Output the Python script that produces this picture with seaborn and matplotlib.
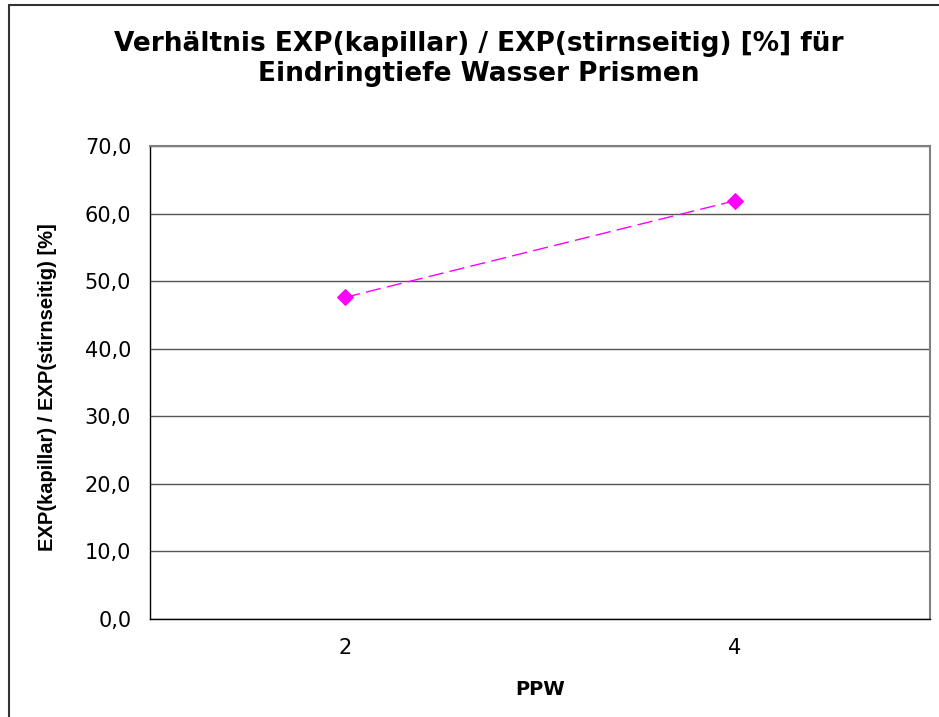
import matplotlib
matplotlib.use("Agg")
import matplotlib.pyplot as plt
from matplotlib.lines import Line2D
import seaborn as sns
import pandas as pd

categories = ["2", "4"]
values = [47.6, 61.9]
y_ticks = [0, 10, 20, 30, 40, 50, 60, 70]
y_tick_labels = ["0,0", "10,0", "20,0", "30,0", "40,0", "50,0", "60,0", "70,0"]
title = "Verhältnis EXP(kapillar) / EXP(stirnseitig) [%] für\nEindringtiefe Wasser Prismen"
xlabel = "PPW"
ylabel = "EXP(kapillar) / EXP(stirnseitig) [%]"

sns.set_theme(style="white")
plt.rcParams["font.family"] = ["DejaVu Sans"]
plt.rcParams["text.color"] = "black"
plt.rcParams["axes.labelcolor"] = "black"
plt.rcParams["xtick.color"] = "black"
plt.rcParams["ytick.color"] = "black"

df = pd.DataFrame({"PPW": categories, "val": values})

fig = plt.figure(figsize=(9.39, 7.17), dpi=100)
ax = fig.add_axes([150 / 939, 1 - 619 / 717, (930 - 150) / 939, (619 - 146) / 717])

sns.pointplot(data=df, x="PPW", y="val", order=categories, color="#FF00FF",
              markers="D", linestyles="--", markersize=8, linewidth=1.0,
              errorbar=None, ax=ax)
for ln in ax.lines:
    ln.set_dashes((11, 4.5))
    ln.set_markersize(8)
    ln.set_markeredgecolor("#FF00FF")

ax.set_xlim(-0.5, 1.5)
ax.set_ylim(0, 70)
ax.set_yticks(y_ticks)
ax.set_yticklabels(y_tick_labels, fontsize=15)
ax.yaxis.grid(True, color="#555555", linewidth=1.0)
ax.set_axisbelow(True)

ax.set_xticks([0, 1])
ax.set_xticklabels(categories, fontsize=15)
ax.set_xticks([-0.5, 0.5, 1.5], minor=True)
ax.tick_params(axis="x", which="major", length=0, pad=14)
ax.tick_params(axis="x", which="minor", length=5, width=1, color="black", direction="out")
ax.tick_params(axis="y", which="major", length=5, width=1, color="black", direction="out", pad=8.5)

for side in ["left", "bottom"]:
    ax.spines[side].set_color("black")
    ax.spines[side].set_linewidth(1.0)
for side in ["top", "right"]:
    ax.spines[side].set_color("#808080")
    ax.spines[side].set_linewidth(1.5)

ax.set_xlabel(xlabel, fontsize=14, fontweight="bold", color="black")
ax.xaxis.set_label_coords(0.5, -(680 - 619) / 473)
ax.set_ylabel(ylabel, fontsize=14.5, fontweight="bold", color="black",
              family=["Liberation Sans", "DejaVu Sans"])
ax.yaxis.set_label_coords((57 - 150) / 780, 0.49)

fig.text(479 / 939, 1 - 59 / 717, title, ha="center", va="center", fontsize=19,
         fontweight="bold", linespacing=1.2, color="black")

fig.add_artist(Line2D([9 / 939, 9 / 939], [0, 1 - 5 / 717], color="#333333", linewidth=1.5,
                      transform=fig.transFigure))
fig.add_artist(Line2D([9 / 939, 1], [1 - 5 / 717, 1 - 5 / 717], color="#333333", linewidth=1.5,
                      transform=fig.transFigure))

fig.savefig("out.png", dpi=100)
